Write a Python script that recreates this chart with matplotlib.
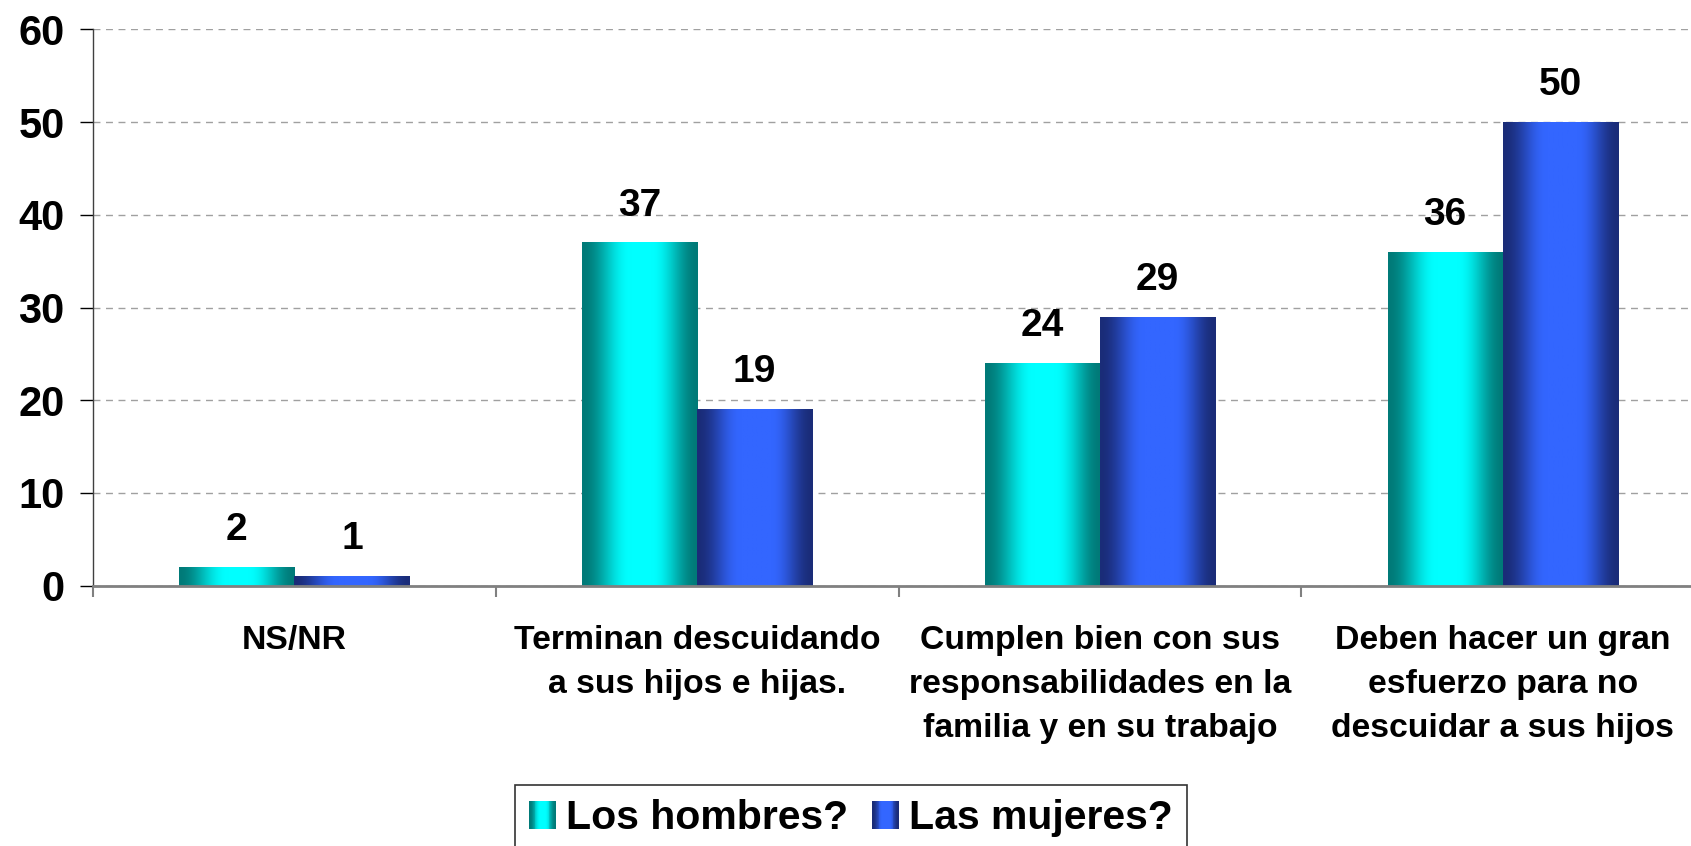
import matplotlib
matplotlib.use('Agg')
import matplotlib.pyplot as plt
import numpy as np
from matplotlib.patches import Rectangle
from matplotlib.legend_handler import HandlerBase
from matplotlib.colors import to_rgb

categories = ["NS/NR",
              "Terminan descuidando\na sus hijos e hijas.",
              "Cumplen bien con sus\nresponsabilidades en la\nfamilia y en su trabajo",
              "Deben hacer un gran\nesfuerzo para no\ndescuidar a sus hijos"]
series_names = ["Los hombres?", "Las mujeres?"]
hombres = [2, 37, 24, 36]
mujeres = [1, 19, 29, 50]
yticks = [0, 10, 20, 30, 40, 50, 60]

plt.rcParams['font.family'] = ['Liberation Sans', 'DejaVu Sans']
plt.rcParams['font.weight'] = 'bold'


def make_grad(dark, bright, stops=(0.0, 0.38, 0.64, 1.0), n=256):
    t = np.linspace(0, 1, n)
    d = np.array(to_rgb(dark))
    b = np.array(to_rgb(bright))
    w = np.interp(t, stops, [0, 1, 1, 0])
    w = 0.5 - 0.5 * np.cos(np.pi * w)
    return d[None, :] * (1 - w[:, None]) + b[None, :] * w[:, None]


grad_h = make_grad('#007A78', '#00FFFF', stops=(0.0, 0.42, 0.6, 1.0))
grad_m = make_grad('#1A2C78', '#3366FF')


class GradHandler(HandlerBase):
    def __init__(self, cols):
        super().__init__()
        self.cols = cols

    def create_artists(self, legend, orig_handle, xdescent, ydescent,
                       width, height, fontsize, trans):
        n = 30
        idx = np.linspace(0, len(self.cols) - 1, n).astype(int)
        arts = []
        for i in range(n):
            r = Rectangle((-xdescent + i * width / n, -ydescent),
                          width / n * 1.05, height,
                          facecolor=self.cols[idx[i]], edgecolor='none',
                          transform=trans)
            arts.append(r)
        return arts


fig = plt.figure(figsize=(16.91, 8.46), dpi=100)
ax = fig.add_axes([93 / 1691, (846 - 585.7) / 846,
                   (1704 - 93) / 1691, (585.7 - 29.3) / 846])

x = np.arange(len(categories))
bw = 1 / 3.5
bars_h = ax.bar(x - bw / 2, hombres, bw, color='#00C8C8', zorder=1,
                label=series_names[0])
bars_m = ax.bar(x + bw / 2, mujeres, bw, color='#2850D0', zorder=1,
                label=series_names[1])

for bars, grad in ((bars_h, grad_h), (bars_m, grad_m)):
    for p in bars:
        x0, y0 = p.get_x(), p.get_y()
        w, h = p.get_width(), p.get_height()
        ax.imshow(grad[None, :, :], extent=[x0, x0 + w, y0, y0 + h],
                  aspect='auto', zorder=2, interpolation='bilinear')
        ax.annotate(f"{h:g}", xy=(x0 + w / 2, y0 + h), xytext=(0, 19.5),
                    textcoords='offset points', ha='center', va='baseline',
                    fontsize=28, fontweight='bold', color='black')

ax.set_xlim(-0.5, 3.5)
ax.set_ylim(0, 60)
ax.set_yticks(yticks)
ax.set_xticks(x)
ax.set_xticklabels(categories, fontsize=24.3, fontweight='bold', linespacing=1.55)
ax.set_xticks([-0.5, 0.5, 1.5, 2.5, 3.5], minor=True)
ax.tick_params(axis='x', which='major', length=0, pad=28)
ax.tick_params(axis='x', which='minor', length=8, width=1.5, color='#808080')
ax.tick_params(axis='y', which='major', length=9.5, width=1, color='black',
               labelsize=30, pad=11)
for lab in ax.get_yticklabels():
    lab.set_fontweight('bold')

ax.yaxis.grid(True, linestyle=(0, (5, 4)), color='#A0A0A0', lw=1)
ax.set_axisbelow(True)
for s in ('top', 'right'):
    ax.spines[s].set_visible(False)
ax.spines['left'].set_color('#404040')
ax.spines['left'].set_linewidth(1.0)
ax.spines['bottom'].set_color('#808080')
ax.spines['bottom'].set_linewidth(2.0)
ax.spines['bottom'].set_zorder(3)

leg = fig.legend(handles=[bars_h, bars_m], labels=series_names,
                 handler_map={bars_h: GradHandler(grad_h), bars_m: GradHandler(grad_m)},
                 loc='upper center', bbox_to_anchor=(851 / 1691, 1 - 785 / 846),
                 bbox_transform=fig.transFigure, ncol=2,
                 prop={'family': 'Liberation Sans', 'weight': 'bold', 'size': 29.5},
                 handlelength=0.64, handleheight=0.66, handletextpad=0.25,
                 columnspacing=0.6, borderpad=0.35, borderaxespad=0,
                 fancybox=False, frameon=True, framealpha=1)
leg.get_frame().set_edgecolor('#333333')
leg.get_frame().set_linewidth(1.2)

fig.savefig('out.png', dpi=100)
